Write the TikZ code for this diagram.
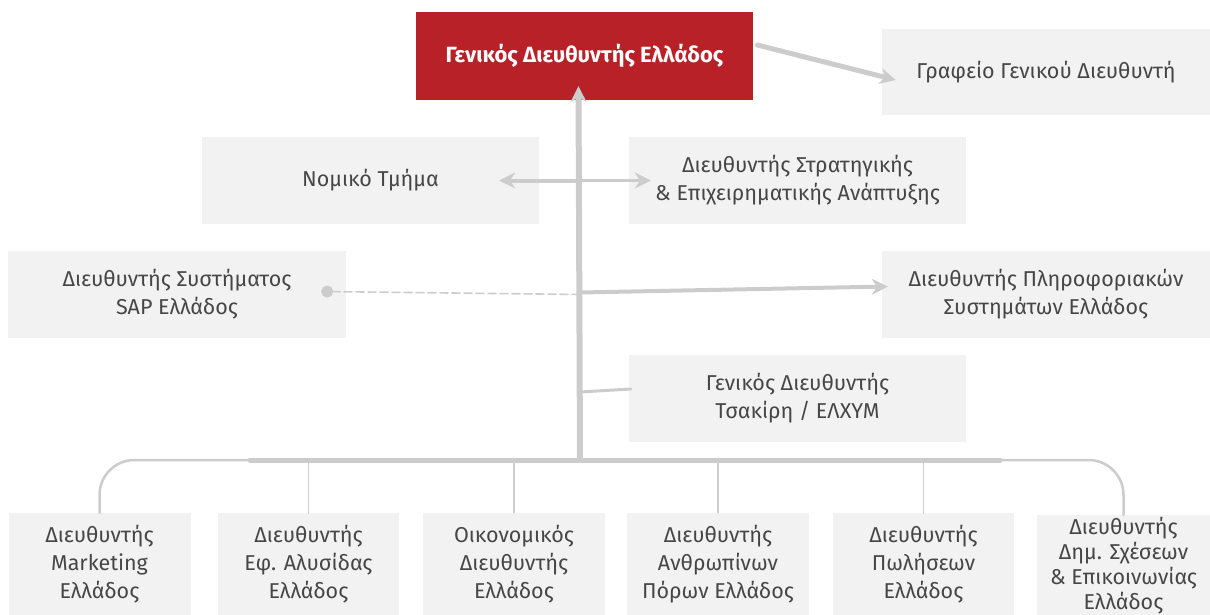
\documentclass[tikz,border=0pt]{standalone}
\usepackage{fontspec}
\setmainfont{Fira Sans}
\usetikzlibrary{arrows.meta,calc}
\definecolor{redgm}{RGB}{185,33,41}
\definecolor{boxgray}{RGB}{242,242,242}
\definecolor{txtgray}{RGB}{70,70,70}
\definecolor{brush}{RGB}{204,204,204}

\begin{document}
\begin{tikzpicture}[x=1pt,y=-1pt,
  box/.style={fill=boxgray,text=txtgray,align=center,inner sep=0pt,minimum height=87pt,font=\fontsize{21.5}{28}\selectfont},
  low/.style={box,minimum width=182pt,minimum height=102pt},
  brushline/.style={draw=brush,line width=6pt,line cap=round},
  thinline/.style={draw=brush,line width=1.6pt,line cap=round},
  tip/.style={-{Stealth[length=16pt,width=16pt]}}]
\useasboundingbox (0,0) rectangle (1210,615);
% boxes
\node[box,fill=redgm,text=white,font=\bfseries\fontsize{22}{28}\selectfont,minimum width=337pt,minimum height=88pt] (gm) at (584.5,56) {Γενικός Διευθυντής Ελλάδος};
\node[box,minimum width=328pt,minimum height=86pt] (office) at (1046,72) {Γραφείο Γενικού Διευθυντή};
\node[box,minimum width=337pt] (legal) at (370.5,180.5) {Νομικό Τμήμα};
\node[box,minimum width=337pt] (strategy) at (797.5,180.5) {Διευθυντής Στρατηγικής\\\& Επιχειρηματικής Ανάπτυξης};
\node[box,minimum width=338pt] (sap) at (177,294.5) {Διευθυντής Συστήματος\\SAP Ελλάδος};
\node[box,minimum width=328pt] (it) at (1046,294.5) {Διευθυντής Πληροφοριακών\\Συστημάτων Ελλάδος};
\node[box,minimum width=337pt] (tsakiris) at (797.5,398.5) {Γενικός Διευθυντής\\Τσακίρη / ΕΛΧΥΜ};
\node[low] (b1) at (99.5,564) {Διευθυντής\\Marketing\\Ελλάδος};
\node[low,minimum width=181pt] (b2) at (308.5,564) {Διευθυντής\\Εφ. Αλυσίδας\\Ελλάδος};
\node[low] (b3) at (514,564) {Οικονομικός\\Διευθυντής\\Ελλάδος};
\node[low] (b4) at (718,564) {Διευθυντής\\Ανθρωπίνων\\Πόρων Ελλάδος};
\node[low,minimum width=181pt] (b5) at (923.5,564) {Διευθυντής\\Πωλήσεων\\Ελλάδος};
\node[low,minimum width=173pt,font=\fontsize{21.5}{25}\selectfont] (b6) at (1123.5,566) {Διευθυντής\\Δημ. Σχέσεων\\\& Επικοινωνίας\\Ελλάδος};
% connectors
\coordinate (bus) at (580,460);
\draw[brushline,line width=2.5pt,rounded corners=35pt] (b1.north) |- (bus) -| (b6.north);
\draw[brushline,line width=5pt] (250,460) -- (1000,460);
\foreach \b in {b2,b3,b4,b5}
  \draw[thinline] (\b.north |- bus) -- (\b.north);
\draw[brushline,tip] (bus) -- ($(gm.south)+(-6,-14)$);
\draw[brushline,line width=4pt,tip] (bus |- legal) -- ($(legal.east)+(-40,0)$);
\draw[brushline,line width=3pt,tip] (bus |- strategy) -- ($(strategy.west)+(22,0)$);
\draw[thinline,dash pattern=on 8pt off 4pt,-{Circle[length=12pt]}] (bus |- sap) -- ($(sap.east)+(-25,-3)$);
\draw[brushline,line width=4pt,tip] ($(bus |- it)+(0,-2)$) -- ($(it.west)+(6,-8)$);
\draw[brushline,line width=3pt] ($(bus |- tsakiris)+(0,-6.5)$) -- ($(tsakiris.west)+(2,-9.5)$);
\draw[brushline,line width=5pt,tip] ($(gm.east)+(4,-11)$) -- ($(office.west)+(14,8)$);
\end{tikzpicture}
\end{document}
